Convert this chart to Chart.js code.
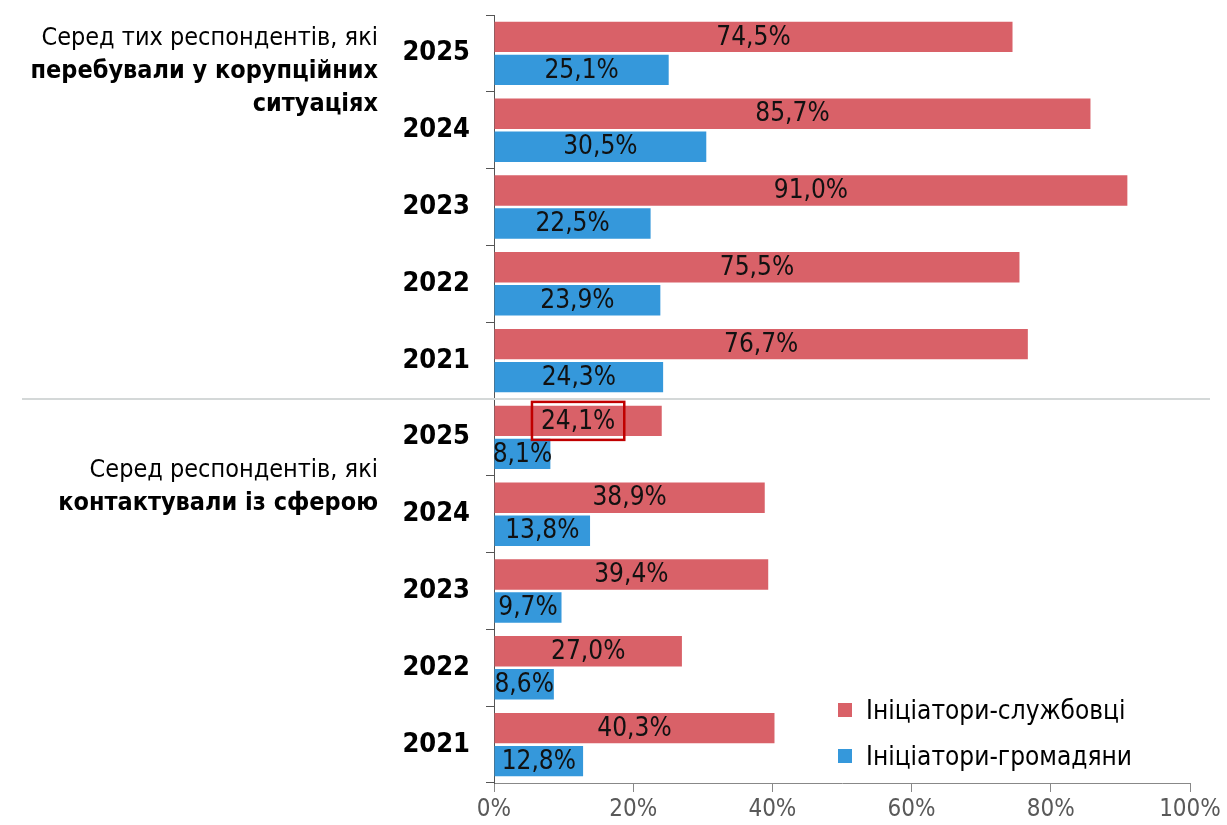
<!DOCTYPE html>
<html>
<head>
<meta charset="utf-8">
<script src="https://cdn.jsdelivr.net/npm/chart.js@4.4.1/dist/chart.umd.min.js"></script>
<style>
  html, body { margin: 0; padding: 0; background: #fff; }
  #wrap { position: relative; width: 1227px; height: 825px; font-family: "DejaVu Sans Condensed", sans-serif; }
  canvas { position: absolute; left: 0; top: 0; }
  .group { position: absolute; right: 849px; text-align: right; font-size: 25px; line-height: 33px; color: #000; white-space: nowrap; }
  .group b { font-weight: bold; }
  .legend { position: absolute; left: 838px; font-size: 26px; color: #000; white-space: nowrap; }
  .legend span { display: inline-block; width: 14px; height: 14px; margin-right: 14px; vertical-align: 2px; }
</style>
</head>
<body>
<div id="wrap">
  <canvas id="chart" width="1227" height="825"></canvas>
  <div class="group" style="top:20px">Серед тих респондентів, які<br><b>перебували у корупційних<br>ситуаціях</b></div>
  <div class="group" style="top:452px">Серед респондентів, які<br><b>контактували із сферою</b></div>
  <div class="legend" style="top:695px"><span style="background:#d96168"></span>Ініціатори-службовці</div>
  <div class="legend" style="top:741px"><span style="background:#3598db"></span>Ініціатори-громадяни</div>
</div>
<script>
const years = ['2025', '2024', '2023', '2022', '2021', '2025', '2024', '2023', '2022', '2021'];
const officials = [74.5, 85.7, 91.0, 75.5, 76.7, 24.1, 38.9, 39.4, 27.0, 40.3];
const citizens = [25.1, 30.5, 22.5, 23.9, 24.3, 8.1, 13.8, 9.7, 8.6, 12.8];
const xTicks = [0, 20, 40, 60, 80, 100];
const highlight = { dataset: 0, index: 5 };

const fmt = v => v.toFixed(1).replace('.', ',') + '%';

// labels in the middle of each bar, plus the red frame and the group separator
const barLabels = {
  id: 'barLabels',
  afterDatasetsDraw(chart) {
    const ctx = chart.ctx;
    ctx.save();
    ctx.font = '26px "DejaVu Sans Condensed", sans-serif';
    ctx.fillStyle = '#111';
    ctx.textAlign = 'center';
    ctx.textBaseline = 'middle';
    chart.data.datasets.forEach((ds, di) => {
      chart.getDatasetMeta(di).data.forEach((bar, i) => {
        const cx = (bar.x + bar.base) / 2;
        ctx.fillText(fmt(ds.data[i]), cx, bar.y + 1);
        if (di === highlight.dataset && i === highlight.index) {
          const w = ctx.measureText(fmt(ds.data[i])).width;
          ctx.strokeStyle = '#c00000';
          ctx.lineWidth = 2.5;
          ctx.strokeRect(cx - w / 2 - 9, bar.y - 19, w + 18, 38);
        }
      });
    });
    // separator between the two groups
    const y = chart.scales.y;
    const sep = (y.getPixelForValue(4) + y.getPixelForValue(5)) / 2;
    ctx.strokeStyle = '#d4d8d8';
    ctx.lineWidth = 2;
    ctx.beginPath();
    ctx.moveTo(22, sep);
    ctx.lineTo(1210, sep);
    ctx.stroke();
    ctx.restore();
  }
};

new Chart(document.getElementById('chart'), {
  type: 'bar',
  data: {
    labels: years,
    datasets: [
      { label: 'Ініціатори-службовці', data: officials, backgroundColor: '#d96168', barPercentage: 0.92, categoryPercentage: 0.86 },
      { label: 'Ініціатори-громадяни', data: citizens, backgroundColor: '#3598db', barPercentage: 0.92, categoryPercentage: 0.86 }
    ]
  },
  options: {
    indexAxis: 'y',
    responsive: false,
    animation: false,
    layout: { padding: { top: 15, right: 37, left: 0, bottom: 0 } },
    plugins: { legend: { display: false }, tooltip: { enabled: false } },
    scales: {
      x: {
        min: 0,
        max: 100,
        afterBuildTicks: s => { s.ticks = xTicks.map(v => ({ value: v })); },
        afterFit: s => { s.height = 42; },
        grid: { drawOnChartArea: false, color: '#888', tickLength: 9 },
        border: { color: '#888' },
        ticks: { callback: v => v + '%', color: '#595959', padding: 3, font: { size: 24, family: '"DejaVu Sans Condensed", sans-serif' } }
      },
      y: {
        afterFit: s => { s.width = 494; s.paddingTop = 0; s.paddingBottom = 0; },
        grid: { drawOnChartArea: false, offset: true, color: '#555', tickLength: 8 },
        border: { color: '#555' },
        ticks: { color: '#000', padding: 16, font: { size: 27, weight: 'bold', family: '"DejaVu Sans Condensed", sans-serif' } }
      }
    }
  },
  plugins: [barLabels]
});
</script>
</body>
</html>
